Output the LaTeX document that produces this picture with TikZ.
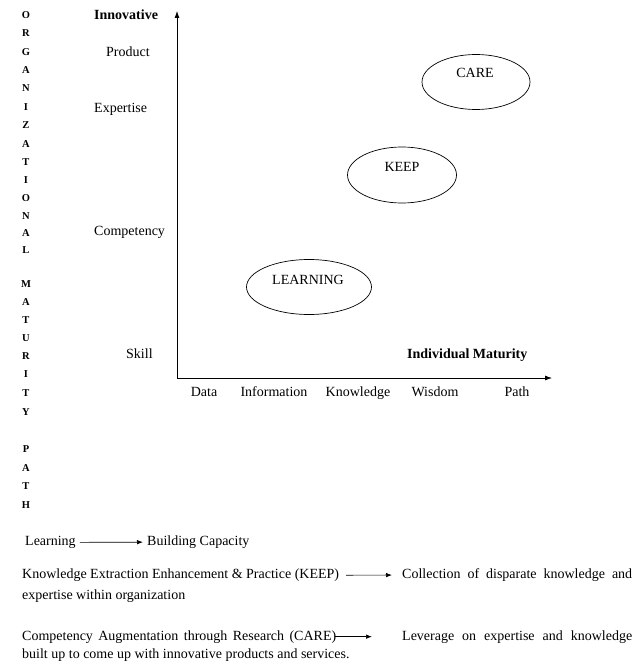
\documentclass[tikz,border=0pt]{standalone}
\usepackage{fontspec}
\setmainfont{Liberation Serif}
\usetikzlibrary{shapes.geometric,arrows.meta}
\begin{document}
\begin{tikzpicture}[x=1pt,y=-1pt,
  font=\fontsize{14}{16}\selectfont,
  txt/.style={inner sep=0pt, anchor=base west},
  ctxt/.style={inner sep=0pt, anchor=base},
  vlet/.style={inner sep=0pt, font=\fontsize{10.5}{12}\selectfont\bfseries},
  oval/.style={draw, ellipse, inner sep=0pt, line width=0.7pt},
  axis/.style={-{Latex[length=7pt,width=5pt]}, line width=0.8pt},
  arr/.style={-{Latex[length=6pt,width=4.5pt]}, line width=0.7pt}]
\useasboundingbox (0,0) rectangle (636,661);

% vertical letters
\foreach \l/\y [count=\i] in {O/15,R/33,G/52,A/70,N/88,I/107,Z/125,A/144,T/162,I/180,O/198,N/216,A/233,L/250,
  M/284,A/302,T/320,U/338,R/356,I/374,T/393,Y/412,P/449,A/468,T/486,H/505}
  \node[vlet] (v\i) at (26,\y) {\l};

% left labels
\node[txt, font=\fontsize{14}{16}\selectfont\bfseries] (innov) at (94,19.5) {Innovative};
\node[txt] (prod) at (106,56.5) {Product};
\node[txt] (expt) at (94,112.5) {Expertise};
\node[txt] (comp) at (94,235.5) {Competency};
\node[txt] (skill) at (126,358.5) {Skill};

% axes
\coordinate (O) at (177,378);
\coordinate (ytip) at (177,11);
\coordinate (xtip) at (552,378);
\draw[axis] (O) -- (ytip);
\draw[axis] (O) -- (xtip);

\node[txt, font=\fontsize{14}{16}\selectfont\bfseries] (indiv) at (407,358.5) {Individual Maturity};
\node[ctxt] (data) at (204,396.5) {Data};
\node[ctxt] (info) at (274,396.5) {Information};
\node[ctxt] (know) at (358,396.5) {Knowledge};
\node[ctxt] (wis) at (435,396.5) {Wisdom};
\node[ctxt] (path) at (517,396.5) {Path};

% ellipses
\node[oval, minimum width=108pt, minimum height=55pt] (care) at (476,82) {};
\node[inner sep=0pt] (caret) at (475,73) {CARE};
\node[oval, minimum width=109pt, minimum height=56pt] (keep) at (402,175) {};
\node[inner sep=0pt] (keept) at (402,167) {KEEP};
\node[oval, minimum width=125pt, minimum height=55pt] (learn) at (309,287) {};
\node[inner sep=0pt] (learnt) at (308,280) {LEARNING};

% bottom legend
\node[txt] (l1a) at (25,545.5) {Learning};
\node[txt] (l1b) at (147,545.5) {Building Capacity};
\draw[arr] ([xshift=4pt]l1a.east) -- ([xshift=-4pt]l1b.west);

\node[txt] (l2a) at (22,578.5) {Knowledge Extraction Enhancement \& Practice (KEEP)};
\node[txt] (l2b) at (402,578.5) {\makebox[230pt][s]{Collection of disparate knowledge and}};
\draw[arr] ([xshift=7pt]l2a.east) -- ([xshift=-10pt]l2b.west);
\node[txt] (l2c) at (22,599.5) {expertise within organization};

\node[txt] (l3a) at (22,640) {\makebox[314pt][s]{Competency Augmentation through Research (CARE)}};
\node[txt] (l3b) at (402,640) {\makebox[230pt][s]{Leverage on expertise and knowledge}};
\draw[arr] ([xshift=-1pt]l3a.east) -- ([xshift=-30pt]l3b.west);
\node[txt] (l3c) at (22,658.5) {built up to come up with innovative products and services.};
\end{tikzpicture}
\end{document}
